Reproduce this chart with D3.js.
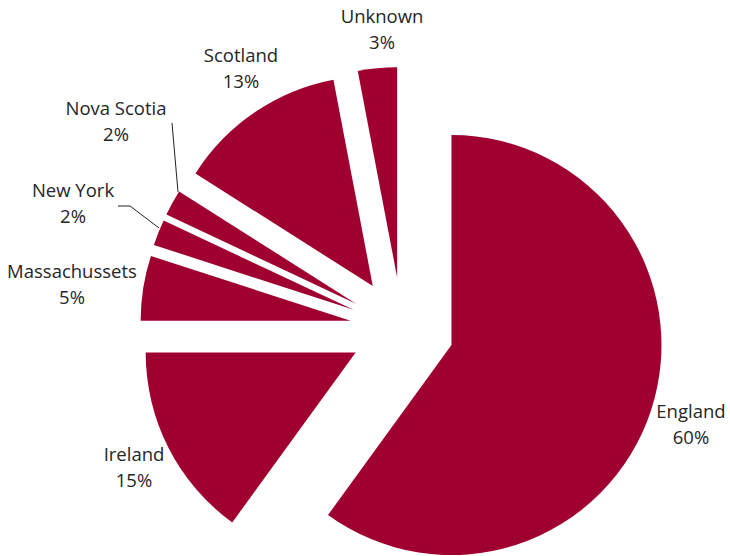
<!DOCTYPE html>
<html>
<head>
<meta charset="utf-8">
<script src="https://cdn.jsdelivr.net/npm/d3@7"></script>
<style>
  html, body { margin: 0; padding: 0; background: #fff; }
  svg { display: block; }
  text { font-family: "Open Sans", "Noto Sans", sans-serif; fill: #262626; }
</style>
</head>
<body>
<svg id="chart" width="730" height="556"></svg>
<script>
// Origin of settlers, share in percent
const categories = ["England", "Ireland", "Massachussets", "New York", "Nova Scotia", "Scotland", "Unknown"];
const values = [60, 15, 5, 2, 2, 13, 3];
const valueLabels = ["60%", "15%", "5%", "2%", "2%", "13%", "3%"];

// Label anchor points (centre x, baseline of first line)
const labelPos = [[691, 418], [134, 461], [72, 278], [73, 197], [116, 115], [241, 62], [382, 23]];
// Leader lines for the two thin slices
const leaders = {
  "New York": [[118, 206], [130, 206], [159, 228]],
  "Nova Scotia": [[172, 123], [178, 192]]
};

const cx = 402, cy = 329, R = 210, explode = 52;
const color = "#a00030";

const svg = d3.select("#chart");

const pie = d3.pie().sort(null).value(d => d.value);
const arcs = pie(categories.map((c, i) => ({ name: c, value: values[i], label: valueLabels[i] })));
const arc = d3.arc().innerRadius(0).outerRadius(R);

const g = svg.append("g").attr("transform", `translate(${cx},${cy})`);

// Every slice is pulled out from the centre along its mid-angle
g.selectAll("path.slice")
  .data(arcs)
  .join("path")
  .attr("class", "slice")
  .attr("fill", color)
  .attr("transform", d => {
    const a = (d.startAngle + d.endAngle) / 2;
    return `translate(${explode * Math.sin(a)},${-explode * Math.cos(a)})`;
  })
  .attr("d", arc);

// Leader lines
const line = d3.line();
Object.values(leaders).forEach(pts => {
  svg.append("path")
    .attr("d", line(pts))
    .attr("fill", "none")
    .attr("stroke", "#222")
    .attr("stroke-width", 1);
});

// Labels: name on the first line, share below
const lab = svg.selectAll("text.lbl")
  .data(arcs)
  .join("text")
  .attr("class", "lbl")
  .attr("text-anchor", "middle")
  .attr("font-size", 18.5)
  .attr("x", (d, i) => labelPos[i][0])
  .attr("y", (d, i) => labelPos[i][1]);
lab.append("tspan").text(d => d.data.name);
lab.append("tspan")
  .attr("x", (d, i) => labelPos[i][0])
  .attr("dy", 25.5)
  .text(d => d.data.label);
</script>
</body>
</html>
